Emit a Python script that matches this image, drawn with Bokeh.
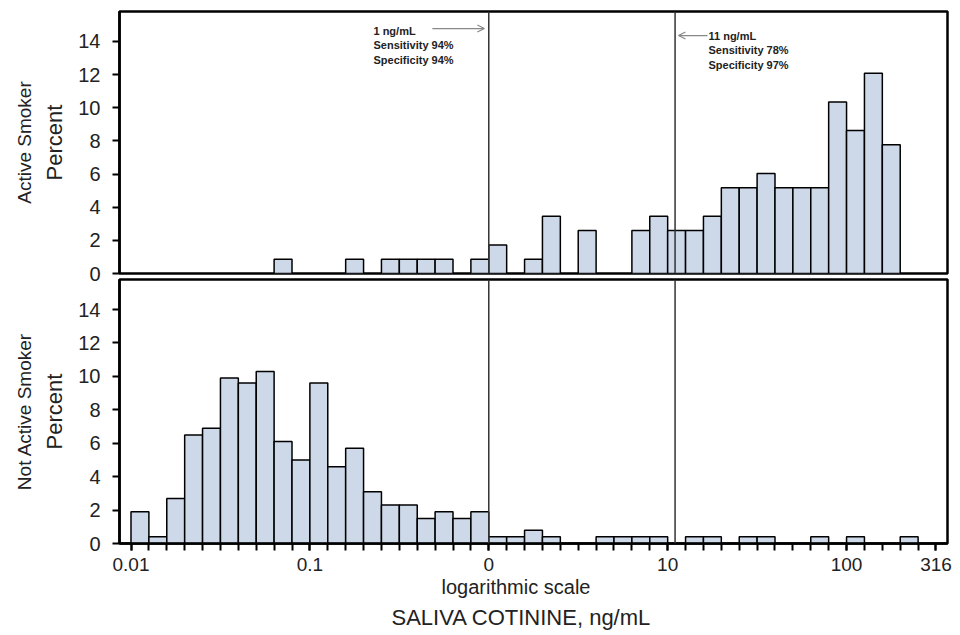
from bokeh.plotting import figure
from bokeh.layouts import column
from bokeh.models import Range1d, FixedTicker, Span, Label, Arrow, OpenHead, Title
from bokeh.embed import file_html
from bokeh.resources import INLINE

# ---------------- data ----------------
# histogram bins: 0.1 log10-unit wide, starting at 0.01 ng/mL, 45 bins up to 316 ng/mL
bin_start_log10 = -2.0
bin_width_log10 = 0.1
n_bins = 45

active_smoker_pct = [
    0, 0, 0, 0, 0, 0, 0, 0, 0.86, 0,
    0, 0, 0.86, 0, 0.86, 0.86, 0.86, 0.86, 0, 0.86,
    1.72, 0, 0.86, 3.45, 0, 2.59, 0, 0, 2.59, 3.45,
    2.59, 2.59, 3.45, 5.17, 5.17, 6.03, 5.17, 5.17, 5.17, 10.34,
    8.62, 12.07, 7.76, 0, 0,
]
not_active_smoker_pct = [
    1.9, 0.4, 2.7, 6.5, 6.9, 9.9, 9.6, 10.3, 6.1, 5.0,
    9.6, 4.6, 5.7, 3.1, 2.3, 2.3, 1.5, 1.9, 1.5, 1.9,
    0.4, 0.4, 0.8, 0.4, 0, 0, 0.4, 0.4, 0.4, 0.4,
    0, 0.4, 0.4, 0, 0.4, 0.4, 0, 0, 0.4, 0,
    0.4, 0, 0, 0.4, 0,
]
panel_names = ["Active Smoker", "Not Active Smoker"]

x_major_ticks = [0.01, 0.1, 1, 10, 100, 10 ** 2.5]
x_major_labels = ["0.01", "0.1", "0", "10", "100", "316"]
y_ticks = [0, 2, 4, 6, 8, 10, 12, 14]
cutoffs = [1, 11]  # ng/mL

annotations = [
    # (x, y, lines, arrow_start_x, arrow_end_x, arrow_y)
    (0.2267, 14.65, ["1 ng/mL", "Sensitivity 94%", "Specificity 94%"], 0.484, 0.945, 14.77),
    (16.91, 14.35, ["11 ng/mL", "Sensitivity 78%", "Specificity 97%"], 16.7, 11.49, 14.35),
]

# ---------------- derived ----------------
edges = [10 ** (bin_start_log10 + k * bin_width_log10) for k in range(n_bins + 1)]
x_range = Range1d(10 ** -2.0643, 10 ** 2.5643)

FONT = "Liberation Sans"
BAR_FILL = "#cdd8e8"
TXT = "#222222"


def make_panel(values, name, bottom_panel):
    p = figure(
        frame_width=828, frame_height=264 if bottom_panel else 262,
        x_axis_type="log", x_range=x_range, y_range=Range1d(0, 15.8),
        x_axis_location="below" if bottom_panel else None,
        output_backend="svg", toolbar_location=None,
        min_border_left=119, min_border_right=5,
        min_border_top=2 if bottom_panel else 11,
        min_border_bottom=0 if bottom_panel else 13,
        background_fill_color="white", border_fill_color="white",
    )
    if bottom_panel:
        # pull the lower panel up so the frames sit close together; its border is
        # transparent so the upper panel's "0" tick label stays visible
        p.margin = (-9, 0, 0, 0)
        p.border_fill_alpha = 0
    p.grid.visible = False
    p.outline_line_color = "black"
    p.outline_line_width = 2.5
    p.outline_line_alpha = 1.0

    lefts = [edges[k] for k in range(n_bins) if values[k] > 0]
    rights = [edges[k + 1] for k in range(n_bins) if values[k] > 0]
    tops = [v for v in values if v > 0]
    p.quad(left=lefts, right=rights, bottom=0, top=tops,
           fill_color=BAR_FILL, line_color="black", line_width=1.5)

    for c in cutoffs:
        p.add_layout(Span(location=c, dimension="height", line_color="#333333", line_width=1.5))

    ya = p.yaxis[0]
    ya.ticker = FixedTicker(ticks=y_ticks, minor_ticks=[])
    ya.axis_label = "Percent"
    ya.axis_label_text_font = FONT
    ya.axis_label_text_font_size = "22px"
    ya.axis_label_text_font_style = "normal"
    ya.axis_label_text_color = TXT
    ya.axis_label_standoff = 8
    ya.major_label_text_font = FONT
    ya.major_label_text_font_size = "20px"
    ya.major_label_text_color = TXT
    ya.major_label_standoff = 12
    ya.axis_line_width = 2.5
    ya.axis_line_color = "black"
    ya.major_tick_line_width = 2
    ya.major_tick_line_color = "black"
    ya.major_tick_out = 7
    ya.major_tick_in = 0

    side = Title(text=name, align="center", text_font=FONT, text_font_size="19px",
                 text_font_style="normal", text_color=TXT, standoff=10)
    p.add_layout(side, "left")

    if bottom_panel:
        xa = p.xaxis[0]
        xa.ticker = FixedTicker(ticks=x_major_ticks, minor_ticks=edges)
        xa.major_label_overrides = dict(zip(x_major_ticks, x_major_labels))
        xa.major_label_text_font = FONT
        xa.major_label_text_font_size = "19px"
        xa.major_label_text_color = TXT
        xa.major_label_standoff = 7
        xa.axis_line_width = 2.5
        xa.axis_line_color = "black"
        xa.major_tick_line_width = 2
        xa.minor_tick_line_width = 2
        xa.major_tick_line_color = "black"
        xa.minor_tick_line_color = "black"
        xa.major_tick_out = 7
        xa.major_tick_in = 0
        xa.minor_tick_out = 7
        xa.minor_tick_in = 0
        p.add_layout(Title(text="logarithmic scale", align="left", offset=322,
                           text_font=FONT, text_font_size="20px", text_font_style="normal",
                           text_color=TXT, standoff=0), "below")
        p.add_layout(Title(text="SALIVA COTININE, ng/mL", align="left", offset=272,
                           text_font=FONT, text_font_size="22px", text_font_style="normal",
                           text_color=TXT, standoff=11), "below")
    else:
        for (lx, ly, lines, ax0, ax1, ay) in annotations:
            for i, line in enumerate(lines):
                p.add_layout(Label(x=lx, y=ly - i * 0.9, text=line, text_font=FONT,
                                   text_font_size="11px", text_font_style="bold",
                                   text_color=TXT, text_baseline="middle", text_align="left"))
            p.add_layout(Arrow(x_start=ax0, y_start=ay, x_end=ax1, y_end=ay,
                               line_color="#888888", line_width=1.2,
                               end=OpenHead(size=7, line_color="#888888", line_width=1.2)))
    return p


top = make_panel(active_smoker_pct, panel_names[0], False)
bottom = make_panel(not_active_smoker_pct, panel_names[1], True)
layout = column(top, bottom, spacing=0)

open("out.html", "w").write(file_html(layout, INLINE))
